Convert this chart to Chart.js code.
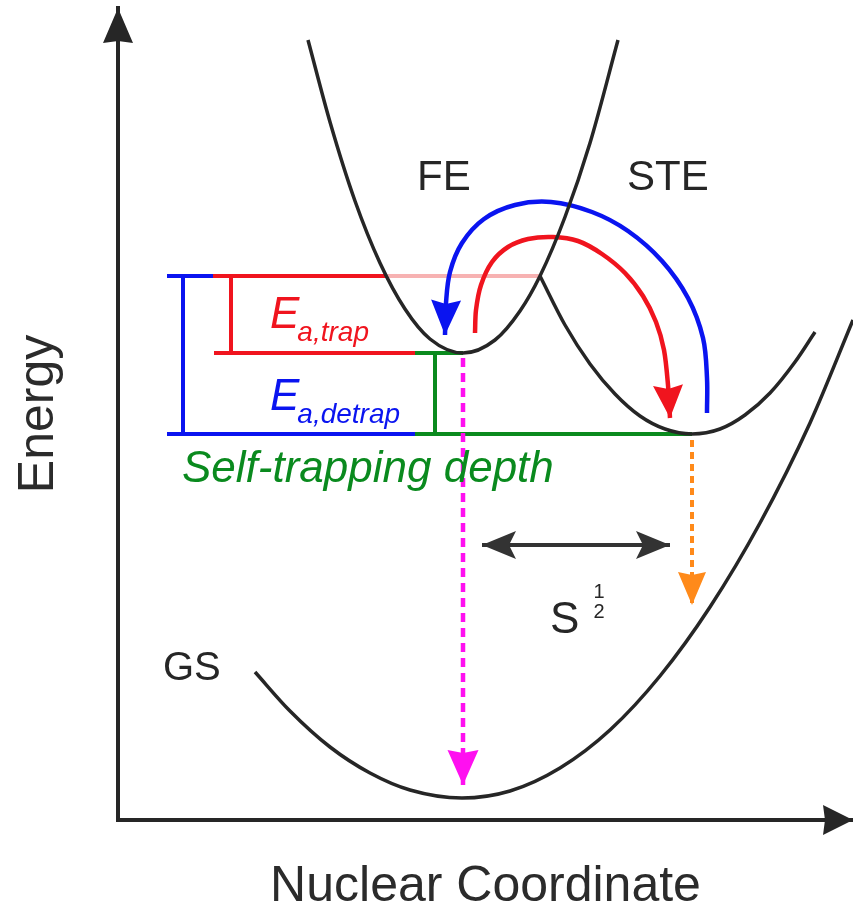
<!DOCTYPE html>
<html>
<head>
<meta charset="utf-8">
<script src="https://cdn.jsdelivr.net/npm/chart.js@4"></script>
<style>
  html, body { margin: 0; padding: 0; background: #ffffff; }
  #wrap { width: 853px; height: 912px; }
</style>
</head>
<body>
<div id="wrap"><canvas id="c" width="853" height="912"></canvas></div>
<script>
// Configuration-coordinate diagram of exciton self-trapping.
// x: nuclear coordinate, y: energy (both in arbitrary units).

// Potential energy curves
const feX  = [1.90, 2.12, 2.37, 2.62, 2.87, 3.12, 3.45, 3.77, 4.02, 4.22, 4.47, 4.72, 5.00];
const feY  = [7.80, 6.98, 6.19, 5.57, 5.11, 4.81, 4.67, 4.80, 5.09, 5.44, 6.03, 6.77, 7.80];
const steX = [4.22, 4.47, 4.72, 4.97, 5.22, 5.47, 5.74, 6.02, 6.27, 6.52, 6.77, 6.97];
const steY = [5.44, 4.95, 4.56, 4.26, 4.04, 3.91, 3.86, 3.91, 4.05, 4.27, 4.58, 4.88];
const gsX  = [1.37, 1.72, 2.12, 2.52, 2.92, 3.44, 3.92, 4.42, 4.92, 5.42, 5.92, 6.42, 6.92, 7.35];
const gsY  = [1.48, 1.09, 0.73, 0.47, 0.30, 0.22, 0.29, 0.52, 0.90, 1.44, 2.13, 2.97, 3.97, 5.00];

// Energy levels
const barrierLevel = 5.44;   // FE/STE crossing
const feLevel      = 4.67;   // FE minimum
const steLevel     = 3.86;   // STE minimum

// Horizontal level segments (x ranges)
const barrierBlueX = [0.49, 0.95];
const barrierRedX  = [0.95, 2.68];
const barrierPinkX = [2.68, 4.22];
const feRedX       = [0.96, 2.97];
const feGreenX     = [2.97, 3.45];
const steBlueX     = [0.49, 2.97];
const steGreenX    = [2.97, 5.74];

// Vertical brackets (x positions)
const trapBarX   = 1.13;
const detrapBarX = 0.65;
const depthBarX  = 3.17;

// Trapping / detrapping transitions
const detrapX = [5.89, 5.89, 5.85, 5.70, 5.44, 5.10, 4.74, 4.33, 3.97, 3.66, 3.44, 3.32, 3.28, 3.27];
const detrapY = [4.07, 4.42, 4.82, 5.22, 5.59, 5.89, 6.08, 6.18, 6.15, 6.01, 5.77, 5.48, 5.17, 4.85];
const trapX   = [3.57, 3.58, 3.63, 3.74, 3.90, 4.10, 4.35, 4.60, 4.84, 5.07, 5.25, 5.38, 5.46, 5.50, 5.52];
const trapY   = [4.87, 5.10, 5.35, 5.58, 5.73, 5.81, 5.83, 5.79, 5.66, 5.47, 5.24, 4.98, 4.70, 4.35, 4.02];

// Emission (vertical) transitions
const feEmissionX  = 3.45;
const feEmissionY  = [4.62, 0.35];
const steEmissionX = 5.74;
const steEmissionY = [3.80, 2.15];

// Huang-Rhys displacement arrow
const shiftX = [3.64, 5.52];
const shiftY = 2.75;

const pts = (xs, ys) => xs.map((x, i) => ({ x, y: Array.isArray(ys) ? ys[i] : ys }));
const vert = (x, ys) => ys.map(y => ({ x, y }));

const INK = '#262626';
const BLUE = '#0a14f0';
const RED = '#f0141e';
const GREEN = '#0a8a1e';
const PINK = '#f7b2b2';
const MAGENTA = '#ff10f0';
const ORANGE = '#ff8a1a';
const FONT = "'Liberation Sans', Arial, Helvetica, sans-serif";

const curve = (data) => ({ data, showLine: true, borderColor: INK, borderWidth: 3.5,
  pointRadius: 0, cubicInterpolationMode: 'monotone', order: 1 });
const level = (data, color) => ({ data, showLine: true, borderColor: color, borderWidth: 4,
  pointRadius: 0, tension: 0, order: 4 });

const datasets = [
  curve(pts(feX, feY)),
  curve(pts(steX, steY)),
  curve(pts(gsX, gsY)),
  { data: pts(detrapX, detrapY), showLine: true, borderColor: BLUE, borderWidth: 4.5, pointRadius: 0,
    tension: 0.35, order: 2, head: { len: 35, width: 30, notch: 4 } },
  { data: pts(trapX, trapY), showLine: true, borderColor: RED, borderWidth: 4.5, pointRadius: 0,
    tension: 0.3, order: 2, head: { len: 33, width: 30, notch: 4 } },
  { data: vert(feEmissionX, feEmissionY), showLine: true, borderColor: MAGENTA, borderWidth: 4.5,
    borderDash: [9, 6], pointRadius: 0, order: 3, head: { len: 35, width: 31, notch: 3 } },
  { data: vert(steEmissionX, steEmissionY), showLine: true, borderColor: ORANGE, borderWidth: 4,
    borderDash: [7, 5], pointRadius: 0, order: 3, head: { len: 33, width: 28, notch: 3 } },
  { data: pts(shiftX, shiftY), showLine: true, borderColor: '#333333', borderWidth: 4, pointRadius: 0,
    order: 3, head: { len: 34, width: 28, notch: 7, both: true } },
  level(pts(barrierBlueX, barrierLevel), BLUE),
  level(pts(barrierRedX, barrierLevel), RED),
  level(pts(barrierPinkX, barrierLevel), PINK),
  level(pts(feRedX, feLevel), RED),
  level(pts(feGreenX, feLevel), GREEN),
  level(pts(steBlueX, steLevel), BLUE),
  level(pts(steGreenX, steLevel), GREEN),
  level(vert(trapBarX, [feLevel, barrierLevel]), RED),
  level(vert(detrapBarX, [steLevel, barrierLevel]), BLUE),
  level(vert(depthBarX, [steLevel, feLevel]), GREEN)
];

// Text annotations anchored in data units
const labels = [
  { text: 'FE',  x: 2.99, y: 6.30, font: `42px ${FONT}`, color: INK },
  { text: 'STE', x: 5.09, y: 6.30, font: `42px ${FONT}`, color: INK },
  { text: 'GS',  x: 0.45, y: 1.40, font: `40px ${FONT}`, color: INK },
  { text: 'Self-trapping depth', x: 0.64, y: 3.38, font: `italic 44px ${FONT}`, color: GREEN },
  { text: 'E', sub: 'a,trap',   x: 1.52, y: 4.92, font: `italic 44px ${FONT}`, subFont: `italic 28px ${FONT}`, color: RED },
  { text: 'E', sub: 'a,detrap', x: 1.52, y: 4.10, font: `italic 44px ${FONT}`, subFont: `italic 28px ${FONT}`, color: BLUE },
  { text: 'S', x: 4.32, y: 1.87, font: `44px ${FONT}`, color: INK },
  { text: '1', x: 4.81, y: 2.22, font: `20px ${FONT}`, color: INK, align: 'center' },
  { text: '2', x: 4.81, y: 2.02, font: `20px ${FONT}`, color: INK, align: 'center' }
];

function drawHead(ctx, from, to, h, color) {
  const a = Math.atan2(to.y - from.y, to.x - from.x);
  ctx.save();
  ctx.translate(to.x, to.y);
  ctx.rotate(a);
  ctx.beginPath();
  ctx.moveTo(0, 0);
  ctx.lineTo(-h.len, -h.width / 2);
  ctx.lineTo(-h.len + (h.notch || 0), 0);
  ctx.lineTo(-h.len, h.width / 2);
  ctx.closePath();
  ctx.fillStyle = color;
  ctx.fill();
  ctx.restore();
}

const arrowHeads = {
  id: 'arrowHeads',
  afterDatasetsDraw(chart) {
    const ctx = chart.ctx;
    chart.data.datasets.forEach((ds, i) => {
      if (!ds.head) return;
      const p = chart.getDatasetMeta(i).data;
      const n = p.length;
      drawHead(ctx, p[n - 2], p[n - 1], ds.head, ds.borderColor);
      if (ds.head.both) drawHead(ctx, p[1], p[0], ds.head, ds.borderColor);
    });
    const { left, top, right, bottom } = chart.chartArea;
    drawHead(ctx, { x: left, y: bottom }, { x: left, y: top }, { len: 35, width: 30, notch: 2 }, INK);
    drawHead(ctx, { x: left, y: bottom }, { x: right, y: bottom }, { len: 30, width: 30, notch: 2 }, INK);
  }
};

const textLabels = {
  id: 'textLabels',
  afterDraw(chart) {
    const ctx = chart.ctx;
    const xs = chart.scales.x, ys = chart.scales.y;
    ctx.save();
    ctx.textBaseline = 'alphabetic';
    labels.forEach(l => {
      const px = xs.getPixelForValue(l.x);
      const py = ys.getPixelForValue(l.y);
      ctx.font = l.font;
      ctx.fillStyle = l.color;
      ctx.textAlign = l.align || 'left';
      ctx.fillText(l.text, px, py);
      if (l.sub) {
        const w = ctx.measureText(l.text).width;
        ctx.font = l.subFont;
        ctx.textAlign = 'left';
        ctx.fillText(l.sub, px + w - 2, py + 13);
      }
    });
    ctx.restore();
  }
};

new Chart(document.getElementById('c'), {
  type: 'scatter',
  data: { datasets },
  options: {
    responsive: false,
    devicePixelRatio: 1,
    animation: false,
    layout: { padding: { top: 8, left: 0, right: 0, bottom: 0 } },
    plugins: { legend: { display: false }, tooltip: { enabled: false } },
    scales: {
      x: {
        type: 'linear', min: 0, max: 7.35,
        grid: { display: false },
        ticks: { display: false },
        border: { display: true, color: INK, width: 4 },
        title: { display: true, text: 'Nuclear Coordinate', color: '#2b2b2b',
          font: { family: FONT, size: 50, lineHeight: 1 }, padding: { top: 0, bottom: 0 } },
        afterFit(scale) { scale.height = 92; }
      },
      y: {
        type: 'linear', min: 0, max: 8.12,
        grid: { display: false },
        ticks: { display: false },
        border: { display: true, color: INK, width: 4 },
        title: { display: true, text: 'Energy', color: '#2b2b2b',
          font: { family: FONT, size: 50, lineHeight: 1 }, padding: { top: 14, bottom: 0 } },
        afterFit(scale) { scale.width = 118; }
      }
    }
  },
  plugins: [arrowHeads, textLabels]
});
</script>
</body>
</html>
